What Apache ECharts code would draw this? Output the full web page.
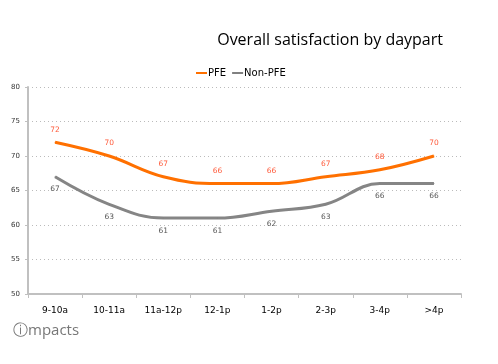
<!DOCTYPE html>
<html><head><meta charset="utf-8">
<script src="https://cdn.jsdelivr.net/npm/echarts@6/dist/echarts.min.js"></script>
<style>html,body{margin:0;padding:0;background:#fff}#c{width:498px;height:364px}</style>
</head><body><div id="c"></div>
<script>
const categories = ['9-10a','10-11a','11a-12p','12-1p','1-2p','2-3p','3-4p','>4p'];
const pfe = [72,70,67,66,66,67,68,70];
const nonPfe = [67,63,61,61,62,63,66,66];
const yTicks = [50,55,60,65,70,75,80];

const chart = echarts.init(document.getElementById('c'));
chart.setOption({
  animation:false,
  backgroundColor:'#fff',
  title:{text:'Overall satisfaction by daypart', right:50, top:27,
    textStyle:{fontFamily:'Open Sans, sans-serif', fontSize:16, fontWeight:'normal', color:'#000'}},
  legend:{top:63, left:191, itemWidth:11, itemHeight:2, itemGap:6,
    icon:'rect',
    textStyle:{fontFamily:'DejaVu Sans, sans-serif', fontSize:10, color:'#000', padding:[0,0,0,-4]},
    data:['PFE','Non-PFE']},
  grid:{left:28, right:37, top:87, bottom:70},
  xAxis:{type:'category', data:categories, boundaryGap:true,
    axisLine:{lineStyle:{color:'#C0C0C0', width:2}},
    axisTick:{show:true, lineStyle:{color:'#C0C0C0', width:1}, length:4},
    axisLabel:{color:'#000', fontSize:9, fontFamily:'DejaVu Sans, sans-serif', margin:12}},
  yAxis:{type:'value', min:yTicks[0], max:yTicks[yTicks.length-1], interval:5,
    axisLine:{show:true, lineStyle:{color:'#C0C0C0', width:2}},
    axisTick:{show:true, length:3, lineStyle:{color:'#C0C0C0'}},
    axisLabel:{color:'#333', fontSize:7, fontFamily:'DejaVu Sans, sans-serif', margin:8},
    splitLine:{lineStyle:{color:'#BBBBBB', type:[1,3], width:1}}},
  series:[
    {name:'PFE', type:'line', data:pfe, smooth:0.4, symbol:'circle', symbolSize:1, showSymbol:true, color:'#FF7000',
     lineStyle:{width:3, color:'#FF7000'},
     label:{show:true, position:'top', distance:8, color:'#FF5A3A', fontSize:7.5, fontFamily:'DejaVu Sans, sans-serif'}},
    {name:'Non-PFE', type:'line', data:nonPfe, smooth:0.4, symbol:'circle', symbolSize:1, showSymbol:true, color:'#808080',
     lineStyle:{width:3, color:'#858585'},
     label:{show:true, position:'bottom', distance:8, color:'#555', fontSize:7.5, fontFamily:'DejaVu Sans, sans-serif'}}
  ],
  graphic:[{type:'text', left:13, top:323,
    style:{text:'ⓘmpacts', fill:'#777', font:'15px "Open Sans", sans-serif'}}]
});
</script></body></html>
